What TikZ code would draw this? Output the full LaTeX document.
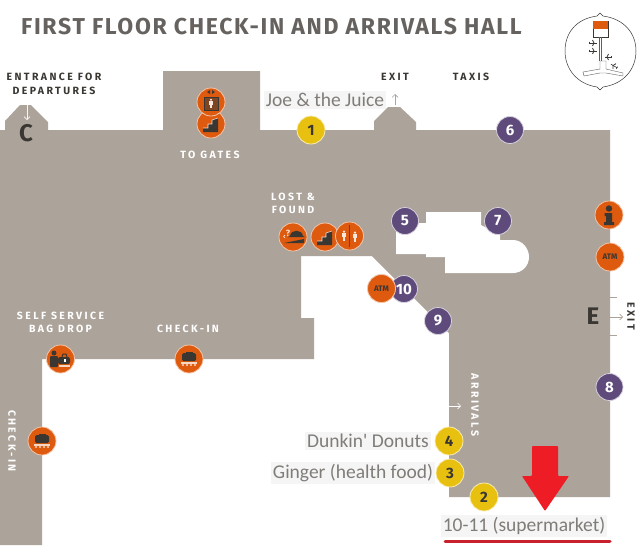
\documentclass[tikz,border=0pt]{standalone}
\usepackage{fontspec}
\usetikzlibrary{arrows.meta}
\setmainfont{Fira Sans}
\newfontfamily\lblfont{Carlito}
\definecolor{floor}{HTML}{ACA39A}
\definecolor{poi}{HTML}{5E4B7C}
\definecolor{shop}{HTML}{E8C010}
\definecolor{svc}{HTML}{DE5A0E}
\definecolor{ink}{HTML}{3A3733}
\definecolor{title}{HTML}{66625F}
\definecolor{lblgray}{HTML}{807C78}
\definecolor{redline}{HTML}{C8202C}
\definecolor{redarrow}{HTML}{EE1C25}
\tikzset{
 x=1pt,y=-1pt,
 poinode/.style={circle,draw=white!75!poi,line width=.8pt,fill=poi,minimum size=27pt,inner sep=0pt,text=white,font=\fontsize{15}{15}\selectfont\bfseries},
 shopnode/.style={circle,draw=white!70!shop,line width=.8pt,fill=shop,minimum size=28pt,inner sep=0pt,text=ink,font=\fontsize{15}{15}\selectfont\bfseries},
 svcnode/.style={circle,draw=white!65!svc,line width=.8pt,fill=svc,minimum size=28pt,inner sep=0pt,text=ink},
 wlabel/.style={text=white,font=\fontsize{10.5}{13}\selectfont\bfseries,align=center,inner sep=0pt},
 dlabel/.style={text=ink,font=\fontsize{10.5}{14}\selectfont\bfseries,align=center,inner sep=0pt},
 shoplabel/.style={fill=black!4,text=lblgray,font=\lblfont\fontsize{19.5}{20}\selectfont,inner sep=2pt},
 thinarrow/.style={-{Straight Barb[length=3pt,width=6pt]},line width=.6pt},
}
\newcommand{\spc}[1]{\addfontfeatures{LetterSpace=23}#1}
\newcommand{\stairsicon}[1]{\fill[ink,shift={(#1)}] (-8,7) -- (-8,3) -- (-3,3) -- (-3,-1) -- (1,-1) -- (1,-5) -- (7,-7) -- (7,7) -- cycle;
 \draw[white!80!svc,line width=.6pt,shift={(#1)}] (-8,3) -- (-3,3) -- (-3,-1) -- (1,-1) -- (1,-5) -- (7,-7);}
\newcommand{\bagicon}[1]{\begin{scope}[shift={(#1)}]
 \draw[ink,line width=1pt] (-3,-5) rectangle (3,-3);
 \fill[ink,rounded corners=1.5pt] (-7,-4) rectangle (7,4);
 \fill[white!75!svc] (-8,5) rectangle (8,6.5);
 \foreach \q in {-6,-2,2,6}{\fill[white!75!svc] (\q,8) circle[radius=1.2];}
\end{scope}}
\newcommand{\planeicon}[2]{\begin{scope}[shift={(#1)},rotate=#2]
 \draw[ink,line width=.6pt] (-3.5,0) -- (3.5,0);
 \draw[ink,line width=.8pt] (-.5,-3) -- (1,0) -- (-.5,3);
 \draw[ink,line width=.6pt] (-3.5,-1.3) -- (-3.5,1.3);
\end{scope}}
\newcommand{\manicon}[2]{\begin{scope}[shift={(#1)},scale=#2]
 \fill[white!85!svc] (0,-5.5) circle[radius=1.6];
 \fill[white!85!svc] (-2.5,-3.5) rectangle (2.5,1.5);
 \fill[white!85!svc] (-1.8,1.5) rectangle (-.3,6);
 \fill[white!85!svc] (.3,1.5) rectangle (1.8,6);
\end{scope}}
\begin{document}
\begin{tikzpicture}
\useasboundingbox (0,0) rectangle (640,552);
\fill[white] (0,0) rectangle (640,552);
\node[anchor=west,inner sep=0pt,text=title,font=\fontsize{23}{23}\selectfont\bfseries] (ttl) at (21,27) {\addfontfeatures{LetterSpace=7.3}FIRST FLOOR CHECK-IN AND ARRIVALS HALL};
% floor
\fill[floor] (0,130) -- (5,130) -- (5,121) -- (20,105) -- (31,105) -- (48,122) -- (48,130)
 -- (163,130) -- (163,71) -- (260,71) -- (260,130) -- (374,130) -- (374,121) -- (388,107) -- (400,107) -- (416,122) -- (416,130)
 -- (610,130) -- (610,497) -- (449,497) -- (449,333) -- (372,256) -- (301,256) -- (301,318) -- (314,318) -- (314,359)
 -- (42,359) -- (42,545) -- (0,545) -- cycle;
\fill[white] (426,212) -- (481,212) -- (481,225) -- (500,235) -- (500,240) -- (513,240) .. controls (522,240) and (529,248) .. (529,257) .. controls (529,266) and (522,273) .. (513,273) -- (445,273) -- (445,257) -- (426,257) -- (426,254) -- (396,254) -- (396,223) -- (426,223) -- cycle;
% shop labels
\node[shoplabel] (joe) at (325,100) {Joe \& the Juice};
\node[shoplabel] (dunkin) at (368,441) {Dunkin' Donuts};
\node[shoplabel] (ginger) at (353,473) {Ginger (health food)};
\node[shoplabel] (eleven) at (524,526) {10-11 (supermarket)};
\draw[redline,line width=3pt,line cap=round] (445,541) -- (610,541);
\fill[redarrow,rounded corners=.8pt] (532,446) -- (558,446) -- (558,476) -- (569,476) -- (545,511) -- (522,476) -- (532,476) -- cycle;
% text labels
\node[dlabel] (entr) at (54,84) {\spc{ENTRANCE FOR}\\\spc{DEPARTURES}};
\node[dlabel] (exittop) at (395,77) {\spc{EXIT}};
\node[dlabel] (taxis) at (471,77) {\spc{TAXIS}};
\node[wlabel] (gates) at (210,155) {\spc{TO GATES}};
\node[wlabel] (lost) at (293,203.5) {\spc{LOST \&}\\\spc{FOUND}};
\node[wlabel] (selfs) at (60.5,322.5) {\spc{SELF SERVICE}\\\spc{BAG DROP}};
\node[wlabel] (chk) at (188,329) {\spc{CHECK-IN}};
\node[wlabel,rotate=-90] (chkl) at (12,441) {\spc{CHECK-IN}};
\node[wlabel,rotate=-90] (arr) at (475,405) {\spc{ARRIVALS}};
\node[dlabel,rotate=-90] (exitr) at (631,316) {\spc{EXIT}};
\node[inner sep=0pt,text=ink,font=\fontsize{24}{24}\selectfont\bfseries] (cc) at (26,133) {C};
\node[inner sep=0pt,text=ink,font=\fontsize{24}{24}\selectfont\bfseries] (ee) at (593,316) {E};
% small arrows and ticks
\coordinate (a1) at (27,105); \coordinate (a2) at (27,120);
\draw[thinarrow,white!90!floor] (a1) -- (a2);
\coordinate (a3) at (395,105); \coordinate (a4) at (395,94);
\draw[thinarrow,floor] (a3) -- (a4);
\coordinate (a5) at (449,406); \coordinate (a6) at (461,406);
\draw[thinarrow,white] (a5) -- (a6);
\coordinate (a7) at (610,317); \coordinate (a8) at (623,317);
\draw[thinarrow,floor] (a7) -- (a8);
\draw[floor,line width=.6pt] (610,297) -- (617,297) (610,335) -- (617,335);
% POI numbers
\node[poinode] (n5) at (405,221) {5};
\node[poinode] (n6) at (510,130) {6};
\node[poinode] (n7) at (498,221) {7};
\node[poinode] (n8) at (609.5,387) {8};
\node[poinode] (n9) at (438,321) {9};
\node[poinode] (n10) at (404,289) {10};
\node[shopnode] (n1) at (311,130) {1};
\node[shopnode] (n2) at (484,497) {2};
\node[shopnode] (n3) at (450,473) {3};
\node[shopnode] (n4) at (449,441) {4};
% service circles
\node[svcnode,font=\fontsize{8}{8}\selectfont\bfseries] (atm1) at (381.5,288.5) {ATM};
\node[svcnode,font=\fontsize{8}{8}\selectfont\bfseries] (atm2) at (610,257) {ATM};
\node[svcnode] (info) at (609,215) {};
\fill[ink] (609,208.5) circle[radius=3.2];
\fill[ink] (604.5,213) -- (612,213) -- (612,222) -- (614,222) -- (614,225) -- (604,225) -- (604,222) -- (606,222) -- (606,216) -- (604.5,216) -- cycle;
\node[svcnode] (stair1) at (211,124) {};
\stairsicon{211,125}
\node[svcnode] (lift) at (211,102) {};
\fill[ink!60!svc] (204,97) rectangle (218,110);
\draw[ink,line width=1pt] (204,97) rectangle (218,110);
\manicon{211,103.5}{.7}
\fill[ink] (207,92) -- (210,90) -- (210,94) -- cycle (215,92) -- (212,90) -- (212,94) -- cycle;
\node[svcnode] (lostn) at (293,237) {};
\node[text=white!85!svc,inner sep=0pt,font=\fontsize{9}{9}\selectfont\bfseries] (qm) at (288,233) {?};
\fill[ink] (290,236) .. controls (291,229) and (302,229) .. (303,236) -- (305,237) -- (288,237) -- cycle;
\fill[ink] (284,243) -- (304,239) -- (304,243) -- cycle;
\draw[white!85!svc,line width=.7pt] (285,238) arc[start angle=90,end angle=270,radius=1.5];
\node[svcnode] (stair2) at (325,237) {};
\stairsicon{325,238}
\node[svcnode] (wc) at (349.5,236) {};
\manicon{344,236}{.8}
\manicon{355,237}{.8}
\draw[ink!70!svc,line width=.7pt] (349.5,225) -- (349.5,247);
\node[svcnode] (selfbag) at (60.5,359) {};
\fill[ink] (54,353) circle[radius=2.5];
\fill[ink,rounded corners=1pt] (50,356) rectangle (58,367);
\fill[ink,rounded corners=1.5pt] (58,357) rectangle (70,364);
\draw[ink,line width=1pt] (62,357) -- (63,354) -- (66,354) -- (67,357);
\fill[white] (64,359) rectangle (66,362);
\fill[white!75!svc] (59,365) rectangle (70,367);
\node[svcnode] (chkbag) at (189,359) {};
\bagicon{189,357}
\node[svcnode] (chkbagl) at (42,441) {};
\bagicon{42,439}
% inset locator
\draw[ink,line width=.5pt,fill=white] (600,13) -- (597,16) .. controls (575,19) and (565,34) .. (565,51) .. controls (565,69) and (577,84) .. (597,87) -- (600,90) -- (603,87) .. controls (624,84) and (636,69) .. (636,51) .. controls (636,34) and (625,19) .. (603,16) -- cycle;
\draw[ink,line width=.5pt,fill=white] (593,21) rectangle (608,37);
\fill[svc] (593.3,21.3) rectangle (607.7,29);
\draw[ink!80,line width=.4pt] (599.5,37) -- (599.5,61) (601.5,37) -- (601.5,61);
\draw[ink!80,line width=.4pt] (600,69) -- (600,61) -- (606,61) -- (606,69) -- (623,73) -- (623,76) -- (606,73) -- (600,73) -- (584,76) -- (583,72) -- cycle;
\planeicon{593,43}{0}
\planeicon{593,51}{0}
\planeicon{608,57}{180}
\planeicon{614,66}{150}
\end{tikzpicture}
\end{document}
